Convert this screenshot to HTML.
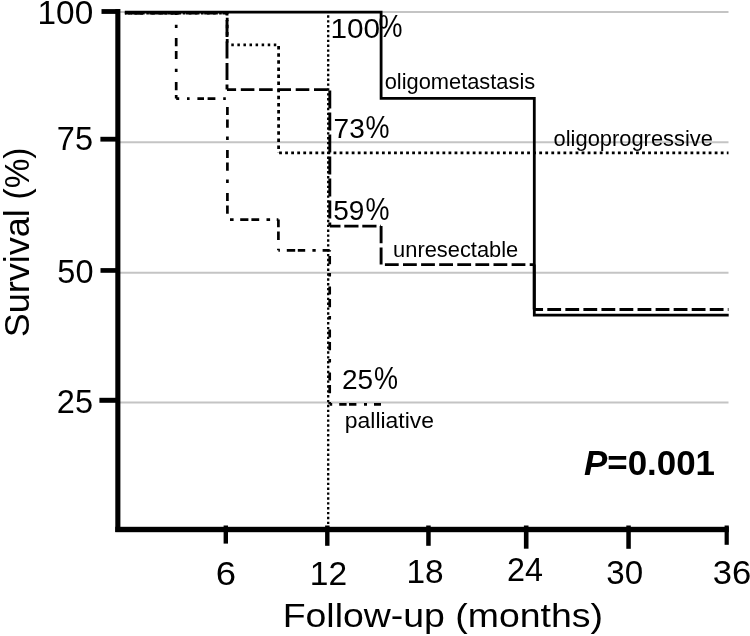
<!DOCTYPE html>
<html>
<head>
<meta charset="utf-8">
<style>
html,body{margin:0;padding:0;background:#fff;width:750px;height:636px;overflow:hidden;}
svg{display:block;}
body{filter:grayscale(1);}
text{font-family:"Liberation Sans",sans-serif;fill:#000;}
</style>
</head>
<body>
<svg width="750" height="636" viewBox="0 0 750 636">
<rect x="0" y="0" width="750" height="636" fill="#fff"/>
<!-- gridlines -->
<g stroke="#c4c4c4" stroke-width="2" fill="none">
<line x1="120" y1="12" x2="728.5" y2="12"/>
<line x1="120" y1="142.2" x2="728.5" y2="142.2"/>
<line x1="120" y1="272.7" x2="728.5" y2="272.7"/>
<line x1="120" y1="402.5" x2="728.5" y2="402.5"/>
</g>
<!-- 12 month reference dotted line -->
<path d="M328.2 15.3V17.7M328.2 20.17V22.57M328.2 25.04V27.44M328.2 29.91V32.31M328.2 34.78V37.18M328.2 39.65V42.05M328.2 44.51V46.91M328.2 49.38V51.78M328.2 54.25V56.65M328.2 59.12V61.52M328.2 63.99V66.39M328.2 68.86V71.26M328.2 73.73V76.13M328.2 78.6V81M328.2 83.47V85.87M328.2 88.33V90.73M328.2 93.2V95.6M328.2 98.07V100.47M328.2 102.94V105.34M328.2 107.81V110.21M328.2 112.68V115.08M328.2 117.55V119.95M328.2 122.42V124.82M328.2 127.29V129.69M328.2 132.16V134.56M328.2 137.02V139.42M328.2 141.89V144.29M328.2 146.76V149.16M328.2 151.63V154.03M328.2 156.5V158.9M328.2 161.37V163.77M328.2 166.24V168.64M328.2 171.11V173.51M328.2 175.98V178.38M328.2 180.85V183.25M328.2 185.71V188.11M328.2 190.58V192.98M328.2 195.45V197.85M328.2 200.32V202.72M328.2 205.19V207.59M328.2 210.06V212.46M328.2 214.93V217.33M328.2 219.8V222.2M328.2 224.67V227.07M328.2 229.54V231.94M328.2 234.4V236.8M328.2 239.27V241.67M328.2 244.14V246.54M328.2 249.01V251.41M328.2 253.88V256.28M328.2 258.75V261.15M328.2 263.62V266.02M328.2 268.49V270.89M328.2 273.36V275.76M328.2 278.23V280.63M328.2 283.09V285.49M328.2 287.96V290.36M328.2 292.83V295.23M328.2 297.7V300.1M328.2 302.57V304.97M328.2 307.44V309.84M328.2 312.31V314.71M328.2 317.18V319.58M328.2 322.05V324.45M328.2 326.92V329.32M328.2 331.78V334.18M328.2 336.65V339.05M328.2 341.52V343.92M328.2 346.39V348.79M328.2 351.26V353.66M328.2 356.13V358.53M328.2 361V363.4M328.2 365.87V368.27M328.2 370.74V373.14M328.2 375.61V378.01M328.2 380.47V382.87M328.2 385.34V387.74M328.2 390.21V392.61M328.2 395.08V397.48M328.2 399.95V402.35M328.2 404.82V407.22M328.2 409.69V412.09M328.2 414.56V416.96M328.2 419.43V421.83M328.2 424.3V426.7M328.2 429.16V431.56M328.2 434.03V436.43M328.2 438.9V441.3M328.2 443.77V446.17M328.2 448.64V451.04M328.2 453.51V455.91M328.2 458.38V460.78M328.2 463.25V465.65M328.2 468.12V470.52M328.2 472.99V475.39M328.2 477.85V480.25M328.2 482.72V485.12M328.2 487.59V489.99M328.2 492.46V494.86M328.2 497.33V499.73M328.2 502.2V504.6M328.2 507.07V509.47M328.2 511.94V514.34M328.2 516.81V519.21M328.2 521.68V524.08M328.2 526.54V527" stroke="#000" stroke-width="2.3" fill="none"/>
<!-- solid: oligometastasis -->
<path d="M124.8 12.1H381.1V98.4H534.3V315.2H728.7" stroke="#000" stroke-width="2.8" fill="none"/>
<!-- dotted: oligoprogressive -->
<path d="M128.11 13.1H130.71M134.18 13.1H136.78M140.25 13.1H142.85M146.32 13.1H148.92M152.39 13.1H154.99M158.46 13.1H161.06M164.53 13.1H167.13M170.6 13.1H173.2M176.67 13.1H179.27M182.74 13.1H185.34M188.81 13.1H191.41M194.88 13.1H197.48M200.95 13.1H203.55M207.02 13.1H209.62M213.09 13.1H215.69M219.16 13.1H221.76M225.23 13.1H227.2M227.2 13.1V14.1M227.2 17.7V21.2M227.2 24.8V28.3M227.2 31.9V35.4M227.2 39V42.5M227.2 44.8H227.73M231.3 44.8H233.8M237.37 44.8H239.87M243.44 44.8H245.94M249.51 44.8H252.01M255.58 44.8H258.08M261.65 44.8H264.15M267.72 44.8H270.22M273.79 44.8H276.29M278.6 46.1V49.6M278.6 53.2V56.7M278.6 60.3V63.8M278.6 67.4V70.9M278.6 74.5V78M278.6 81.6V85.1M278.6 88.7V92.2M278.6 95.8V99.3M278.6 102.9V106.4M278.6 110V113.5M278.6 117.1V120.6M278.6 124.2V127.7M278.6 131.3V134.8M278.6 138.4V141.9M278.6 145.5V149M278.6 152.6V152.8M279.1 152.8H281.9M285.15 152.8H287.95M291.2 152.8H294M297.25 152.8H300.05M303.3 152.8H306.1M309.35 152.8H312.15M315.4 152.8H318.2M321.45 152.8H324.25M327.5 152.8H330.3M333.55 152.8H336.35M339.6 152.8H342.4M345.65 152.8H348.45M351.7 152.8H354.5M357.75 152.8H360.55M363.8 152.8H366.6M369.85 152.8H372.65M375.9 152.8H378.7M381.95 152.8H384.75M388 152.8H390.8M394.05 152.8H396.85M400.1 152.8H402.9M406.15 152.8H408.95M412.2 152.8H415M418.25 152.8H421.05M424.3 152.8H427.1M430.35 152.8H433.15M436.4 152.8H439.2M442.45 152.8H445.25M448.5 152.8H451.3M454.55 152.8H457.35M460.6 152.8H463.4M466.65 152.8H469.45M472.7 152.8H475.5M478.75 152.8H481.55M484.8 152.8H487.6M490.85 152.8H493.65M496.9 152.8H499.7M502.95 152.8H505.75M509 152.8H511.8M515.05 152.8H517.85M521.1 152.8H523.9M527.15 152.8H529.95M533.2 152.8H536M539.25 152.8H542.05M545.3 152.8H548.1M551.35 152.8H554.15M557.4 152.8H560.2M563.45 152.8H566.25M569.5 152.8H572.3M575.55 152.8H578.35M581.6 152.8H584.4M587.65 152.8H590.45M593.7 152.8H596.5M599.75 152.8H602.55M605.8 152.8H608.6M611.85 152.8H614.65M617.9 152.8H620.7M623.95 152.8H626.75M630 152.8H632.8M636.05 152.8H638.85M642.1 152.8H644.9M648.15 152.8H650.95M654.2 152.8H657M660.25 152.8H663.05M666.3 152.8H669.1M672.35 152.8H675.15M678.4 152.8H681.2M684.45 152.8H687.25M690.5 152.8H693.3M696.55 152.8H699.35M702.6 152.8H705.4M708.65 152.8H711.45M714.7 152.8H717.5M720.75 152.8H723.55M726.8 152.8H728.5" stroke="#000" stroke-width="2.8" fill="none"/>
<!-- dashed: unresectable -->
<path d="M124.8 13.1H126.3M131 13.1H144.6M149.3 13.1H162.9M167.6 13.1H181.2M185.9 13.1H199.5M204.2 13.1H217.8M222.5 13.1H227M227 13.1V15.5M227 20V37M227 41.5V58.5M227 63V80M227 84.5V89.6M227 89.6H236.1M240.8 89.6H254.4M259.1 89.6H272.7M277.4 89.6H291M295.7 89.6H309.3M314 89.6H327.6M329.8 90.6V108.4M329.8 112.6V130.4M329.8 134.6V152.4M329.8 156.6V174.4M329.8 178.6V196.4M329.8 200.6V218.4M329.8 222.6V226.1M329.8 226.1H340.5M344.3 226.1H358.5M362.3 226.1H376.5M380.3 226.1H381M381.1 226.1V243.3M381.1 247.5V264.6M384.9 264.6H398.7M403 264.6H416.8M421.1 264.6H434.9M439.2 264.6H453M457.3 264.6H471.1M475.4 264.6H489.2M493.5 264.6H507.3M511.6 264.6H525.4M529.7 264.6H534.2M534.2 264.6V309.5M534.2 309.5H543.05M547.3 309.5H561.1M565.35 309.5H579.15M583.4 309.5H597.2M601.45 309.5H615.25M619.5 309.5H633.3M637.55 309.5H651.35M655.6 309.5H669.4M673.65 309.5H687.45M691.7 309.5H705.5M709.75 309.5H723.55M727.8 309.5H728.5" stroke="#000" stroke-width="2.9" fill="none"/>
<!-- dash-dot: palliative -->
<path d="M125 13.1H132M135.2 13.1H143M150.6 13.1H153.4M160.6 13.1H167.6M170.8 13.1H176.2M176.2 13.1V15.1M176.2 24.7V28M176.2 38V46.3M176.2 50.9V59.1M176.2 68.7V72M176.2 82V90.3M176.2 94.9V98.6M176.2 98.6H179.2M187 98.6H189.6M197.4 98.6H204M207.6 98.6H215.4M223.2 98.6H225.8M227.4 107V115.1M227.4 119.4V127.8M227.4 136.6V140M227.4 150V158.1M227.4 162.4V170.8M227.4 179.6V183M227.4 193V201.1M227.4 205.4V213.8M230 219.6H233.6M240.2 219.6H248.4M251.4 219.6H259.2M266.5 219.6H270.1M276.7 219.6H278.4M278.4 219.6V227.3M278.4 231.6V240M278.4 248.8V250.3M278.4 250.3H279.9M286.8 250.3H295.2M297.8 250.3H305.2M312.4 250.3H315.7M322.6 250.3H329.6M329.7 250.3V251.6M329.7 255.9V264.3M329.7 273.1V276.5M329.7 286.5V294.6M329.7 298.9V307.3M329.7 316.1V319.5M329.7 329.5V337.6M329.7 341.9V350.3M329.7 359.1V362.5M329.7 372.5V380.6M329.7 384.9V393.3M329.7 402.1V404.2M329.7 404.3H332.2M339.2 404.3H346.6M349 404.3H356.4M364 404.3H367M374 404.3H381" stroke="#000" stroke-width="2.7" fill="none"/>
<!-- axes -->
<rect x="115.3" y="9" width="5.1" height="523" fill="#000"/>
<rect x="115.3" y="526.8" width="613.5" height="5.4" fill="#000"/>
<!-- y ticks -->
<rect x="101.5" y="9.1" width="18" height="4.8" fill="#000"/>
<rect x="100.4" y="136.8" width="18.6" height="4.8" fill="#000"/>
<rect x="100.5" y="268.1" width="18.5" height="4.7" fill="#000"/>
<rect x="99.4" y="397.8" width="19.6" height="5" fill="#000"/>
<!-- x ticks -->
<rect x="223.6" y="525.5" width="4.4" height="18.1" fill="#000"/>
<rect x="325.1" y="525.5" width="4.4" height="20.3" fill="#000"/>
<rect x="426.2" y="525.5" width="4.5" height="20.3" fill="#000"/>
<rect x="523.9" y="525.5" width="4.6" height="23.2" fill="#000"/>
<rect x="626.3" y="525.5" width="4.5" height="23.3" fill="#000"/>
<rect x="724.6" y="525.5" width="4.2" height="19.3" fill="#000"/>
<!-- y tick labels -->
<g font-size="32.5" text-anchor="end">
<text x="93.2" y="23.8" textLength="55.6" lengthAdjust="spacingAndGlyphs">100</text>
<text x="93" y="150.1">75</text>
<text x="93.5" y="282.7">50</text>
<text x="93" y="412.7">25</text>
</g>
<!-- x tick labels -->
<g font-size="32.3" text-anchor="middle">
<text x="226" y="584.8" textLength="20.3" lengthAdjust="spacingAndGlyphs">6</text>
<text x="328.5" y="584.6" textLength="37.3" lengthAdjust="spacingAndGlyphs">12</text>
<text x="425" y="583.1" textLength="37.2" lengthAdjust="spacingAndGlyphs">18</text>
<text x="525" y="580.9">24</text>
<text x="624.8" y="584.1" textLength="36.9" lengthAdjust="spacingAndGlyphs">30</text>
<text x="732" y="584.4" textLength="38.5" lengthAdjust="spacingAndGlyphs">36</text>
</g>
<!-- axis titles -->
<text font-size="35" transform="translate(29,337.35) rotate(-90)" textLength="128.1" lengthAdjust="spacingAndGlyphs">Survival</text>
<text font-size="35" transform="translate(29,199.5) rotate(-90)" textLength="52" lengthAdjust="spacingAndGlyphs">(%)</text>
<text x="282.7" y="627.3" font-size="34" textLength="320.2" lengthAdjust="spacingAndGlyphs">Follow-up (months)</text>
<!-- percent annotations -->
<g font-size="28">
<text x="330.4" y="37.7" textLength="49.6" lengthAdjust="spacingAndGlyphs">100</text>
<text x="333.6" y="137.7">73</text>
<text x="333.2" y="219.7">59</text>
<text x="342" y="389.3">25</text>
</g>
<g font-size="30.5">
<text x="378.6" y="37.2" textLength="24" lengthAdjust="spacingAndGlyphs">%</text>
<text x="365.6" y="137.5" textLength="24" lengthAdjust="spacingAndGlyphs">%</text>
<text x="365.5" y="219.7" textLength="24" lengthAdjust="spacingAndGlyphs">%</text>
<text x="373.9" y="389.3" textLength="24" lengthAdjust="spacingAndGlyphs">%</text>
</g>
<!-- group labels -->
<g font-size="21.5">
<text x="384.7" y="89.4" textLength="150.5" lengthAdjust="spacingAndGlyphs">oligometastasis</text>
<text x="553.6" y="146" textLength="159.3" lengthAdjust="spacingAndGlyphs">oligoprogressive</text>
<text x="393.1" y="256.8" textLength="125.2" lengthAdjust="spacingAndGlyphs">unresectable</text>
<text x="344.8" y="427.6" textLength="89.2" lengthAdjust="spacingAndGlyphs">palliative</text>
</g>
<text x="584" y="474.6" font-size="35.5" font-weight="bold" textLength="131" lengthAdjust="spacingAndGlyphs"><tspan font-style="italic">P</tspan>=0.001</text>
</svg>
</body>
</html>
